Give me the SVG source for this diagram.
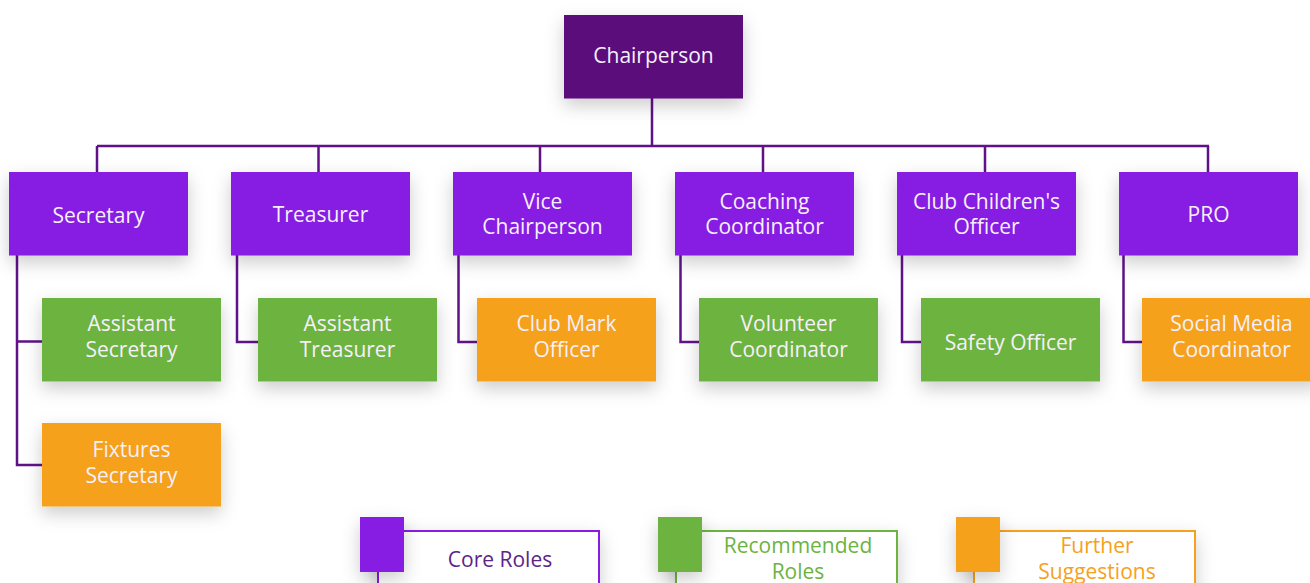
<svg xmlns="http://www.w3.org/2000/svg" width="1310" height="583" viewBox="0 0 1310 583">
<defs>
<filter id="sh" x="-40%" y="-40%" width="180%" height="190%">
<feDropShadow dx="0" dy="7" stdDeviation="9" flood-color="#000" flood-opacity="0.2"/>
</filter>
<style>
.t{font-family:"Open Sans","Noto Sans","Liberation Sans",sans-serif;font-size:21px;fill:#f6f0fb;text-anchor:middle}
.core{fill:#871be2}
.chair{fill:#5b0d7b}
.rec{fill:#6db33f}
.fur{fill:#f5a11c}
.ln{fill:none;stroke:#5f1288;stroke-width:2.5}
.lg{font-family:"Open Sans","Noto Sans","Liberation Sans",sans-serif;font-size:21px;text-anchor:middle}
</style>
</defs>
<rect width="1310" height="583" fill="#ffffff"/>
<g id="connectors" class="ln">
<path d="M652 98V146M97 146H1209M97 146V172M318.5 146V172M540 146V172M763 146V172M985 146V172M1208 146V172"/>
<path d="M17 255V465H42M17 341.5H42"/>
<path d="M237 255V342H258"/>
<path d="M458.5 255V342H477"/>
<path d="M680.5 255V342H699"/>
<path d="M902 255V342H921"/>
<path d="M1123.5 255V342H1142"/>
</g>
<g id="chairperson"><rect class="chair" x="564" y="15" width="179" height="83.5" filter="url(#sh)"/><text class="t" x="653.5" y="63">Chairperson</text></g>
<g id="secretary"><rect class="core" x="9" y="172" width="179" height="83.5" filter="url(#sh)"/><text class="t" x="98.5" y="222.5">Secretary</text></g>
<g id="treasurer"><rect class="core" x="231" y="172" width="179" height="83.5" filter="url(#sh)"/><text class="t" x="320.5" y="222">Treasurer</text></g>
<g id="vice-chairperson"><rect class="core" x="453" y="172" width="179" height="83.5" filter="url(#sh)"/><text class="t" x="542.5" y="208.5">Vice</text><text class="t" x="542.5" y="234">Chairperson</text></g>
<g id="coaching-coordinator"><rect class="core" x="675" y="172" width="179" height="83.5" filter="url(#sh)"/><text class="t" x="764.5" y="208.5">Coaching</text><text class="t" x="764.5" y="234">Coordinator</text></g>
<g id="club-childrens-officer"><rect class="core" x="897" y="172" width="179" height="83.5" filter="url(#sh)"/><text class="t" x="986.5" y="208.5">Club Children's</text><text class="t" x="986.5" y="234">Officer</text></g>
<g id="pro"><rect class="core" x="1119" y="172" width="179" height="83.5" filter="url(#sh)"/><text class="t" x="1208.5" y="222">PRO</text></g>
<g id="assistant-secretary"><rect class="rec" x="42" y="298" width="179" height="83.5" filter="url(#sh)"/><text class="t" x="131.5" y="331">Assistant</text><text class="t" x="131.5" y="357">Secretary</text></g>
<g id="fixtures-secretary"><rect class="fur" x="42" y="423" width="179" height="83.5" filter="url(#sh)"/><text class="t" x="131.5" y="456.5">Fixtures</text><text class="t" x="131.5" y="482.5">Secretary</text></g>
<g id="assistant-treasurer"><rect class="rec" x="258" y="298" width="179" height="83.5" filter="url(#sh)"/><text class="t" x="347.5" y="331">Assistant</text><text class="t" x="347.5" y="357">Treasurer</text></g>
<g id="club-mark-officer"><rect class="fur" x="477" y="298" width="179" height="83.5" filter="url(#sh)"/><text class="t" x="566.5" y="331">Club Mark</text><text class="t" x="566.5" y="357">Officer</text></g>
<g id="volunteer-coordinator"><rect class="rec" x="699" y="298" width="179" height="83.5" filter="url(#sh)"/><text class="t" x="788.5" y="331">Volunteer</text><text class="t" x="788.5" y="357">Coordinator</text></g>
<g id="safety-officer"><rect class="rec" x="921" y="298" width="179" height="83.5" filter="url(#sh)"/><text class="t" x="1010.5" y="350">Safety Officer</text></g>
<g id="social-media-coordinator"><rect class="fur" x="1142" y="298" width="179" height="83.5" filter="url(#sh)"/><text class="t" x="1231.5" y="331">Social Media</text><text class="t" x="1231.5" y="357">Coordinator</text></g>
<g id="legend-core">
<rect x="378" y="531" width="221" height="80" fill="#ffffff" stroke="#871be2" stroke-width="2" filter="url(#sh)"/>
<rect class="core" x="360" y="517" width="44" height="55" filter="url(#sh)"/>
<text class="lg" x="500" y="567" fill="#5e2386">Core Roles</text>
</g>
<g id="legend-recommended">
<rect x="676" y="531" width="221" height="80" fill="#ffffff" stroke="#6db33f" stroke-width="2" filter="url(#sh)"/>
<rect class="rec" x="658" y="517" width="44" height="55" filter="url(#sh)"/>
<text class="lg" x="798" y="553" fill="#6db33f">Recommended</text>
<text class="lg" x="798" y="579" fill="#6db33f">Roles</text>
</g>
<g id="legend-further">
<rect x="974" y="531" width="221" height="80" fill="#ffffff" stroke="#f5a11c" stroke-width="2" filter="url(#sh)"/>
<rect class="fur" x="956" y="517" width="44" height="55" filter="url(#sh)"/>
<text class="lg" x="1097" y="553" fill="#f5a11c">Further</text>
<text class="lg" x="1097" y="579" fill="#f5a11c">Suggestions</text>
</g>
</svg>
